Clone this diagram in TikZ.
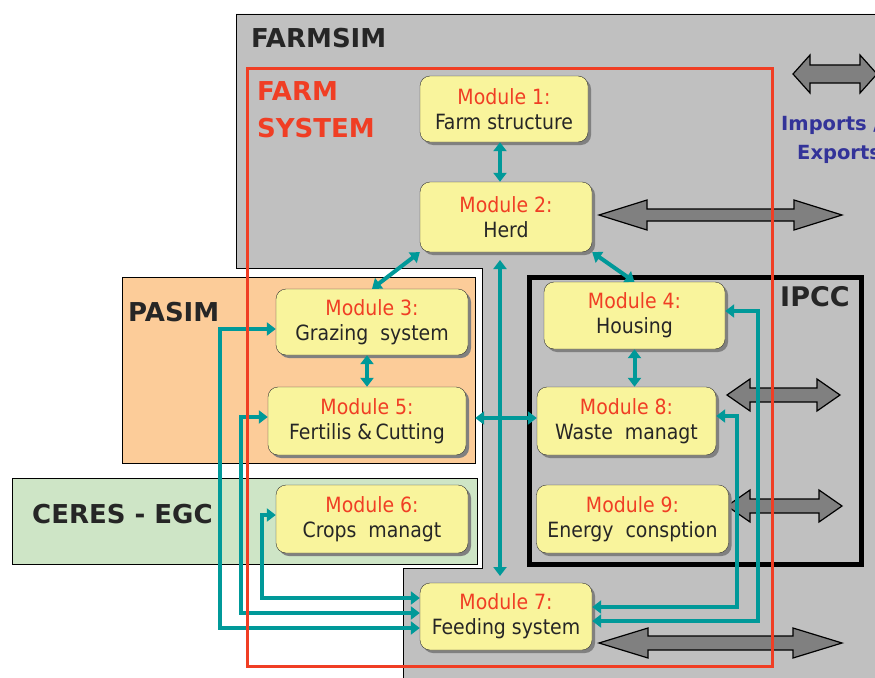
\documentclass[tikz,border=0pt]{standalone}
\usepackage{fontspec}
\setmainfont{DejaVu Sans}
\newfontfamily\condfont{DejaVu Sans Condensed}
\usepackage{xcolor}
\usetikzlibrary{arrows.meta,shadows}
\definecolor{farmgray}{RGB}{192,192,192}
\definecolor{pasimorange}{RGB}{252,204,153}
\definecolor{ceresgreen}{RGB}{206,229,198}
\definecolor{modyellow}{RGB}{249,244,156}
\definecolor{farmred}{RGB}{240,62,36}
\definecolor{linkteal}{RGB}{0,153,153}
\definecolor{ioblue}{RGB}{51,51,153}
\definecolor{blockgray}{RGB}{128,128,128}
% block double arrow: left x, right x, mid y, head length, head half, shaft half
\newcommand{\ioarrow}[6]{%
  \draw[ioshape] (#1,#3) -- ++(#4,-#5) -- ++(0,#5-#6) -- ({#2-#4},{#3-#6})
    -- ++(0,#6-#5) -- (#2,#3) -- ({#2-#4},{#3+#5}) -- ++(0,#6-#5)
    -- ({#1+#4},{#3+#6}) -- ++(0,#5-#6) -- cycle;}
\tikzset{
  module/.style={rectangle, rounded corners=10pt, draw=black!80, fill=modyellow,
    align=center, inner sep=0pt, text=black!85,
    font=\condfont\fontsize{21}{25}\selectfont,
    drop shadow={shadow xshift=3pt, shadow yshift=-3pt, fill=black!50, opacity=1}},
  link/.style={draw=linkteal, line width=4pt,
    arrows={Triangle[length=9pt,width=13pt]-Triangle[length=9pt,width=13pt]}},
  ioshape/.style={fill=blockgray, draw=black, line width=1.2pt},
  biglabel/.style={anchor=base west, inner sep=0pt, text=black!85,
    font=\bfseries\fontsize{26}{30}\selectfont},
  iolabel/.style={anchor=base west, inner sep=0pt, text=ioblue,
    font=\bfseries\fontsize{19.5}{24}\selectfont}
}

\begin{document}
\begin{tikzpicture}[x=1pt, y=-1pt]
    \useasboundingbox (0,0) rectangle (875,677);
    \clip (0,0) rectangle (875,677);
    % model areas
    \draw[fill=farmgray, line width=0.8pt] (236,14) -- (885,14) -- (885,685) -- (403,685)
        -- (403,568) -- (482,568) -- (482,268) -- (236,268) -- cycle;
    \draw[fill=pasimorange, line width=0.8pt] (122,277) rectangle (475,463);
    \draw[fill=ceresgreen, line width=0.8pt] (12,478) rectangle (477,564);
    \draw[line width=5pt] (529.5,277.5) rectangle (861,564);
    \node[biglabel] (farmsim) at (251,48) {FARMSIM};
    \node[biglabel] (pasim) at (128,321) {PASIM};
    \node[biglabel] (ceres) at (32,523) {CERES - EGC};
    \node[biglabel, font=\bfseries\fontsize{27}{30}\selectfont] (ipcc) at (780,306) {IPCC};
    \node[biglabel, text=farmred] (farm) at (257,100) {FARM};
    \node[biglabel, text=farmred] (system) at (257,137) {SYSTEM};
    \node[iolabel] (imports) at (781,130) {Imports /};
    \node[iolabel] (exports) at (797,159) {Exports};
    % imports / exports
    \ioarrow{793}{877}{74}{17}{19}{9}
    \ioarrow{599}{842}{215}{48}{15}{6}
    \ioarrow{727}{840}{395}{23}{16}{7}
    \ioarrow{727}{842}{506}{23}{16}{7}
    \ioarrow{599}{842}{643}{49}{15}{7}
    % modules
    \node[module, minimum width=168pt, minimum height=66pt] (m1) at (504,109)
        {\textcolor{farmred}{Module 1:}\\Farm structure};
    \node[module, minimum width=172pt, minimum height=70pt] (m2) at (506,217)
        {\textcolor{farmred}{Module 2:}\\Herd};
    \node[module, minimum width=192pt, minimum height=66pt] (m3) at (372,322)
        {\textcolor{farmred}{Module 3:}\\Grazing\ \ system};
    \node[module, minimum width=181pt, minimum height=67pt] (m4) at (634.5,315.5)
        {\textcolor{farmred}{Module 4:}\\Housing};
    \node[module, minimum width=198pt, minimum height=68pt] (m5) at (367,421)
        {\textcolor{farmred}{Module 5:}\\Fertilis \&\,Cutting};
    \node[module, minimum width=192pt, minimum height=68pt] (m6) at (372,519)
        {\textcolor{farmred}{Module 6:}\\Crops\ \ managt};
    \node[module, minimum width=172pt, minimum height=67pt] (m7) at (506,616.5)
        {\textcolor{farmred}{Module 7:}\\Feeding system};
    \node[module, minimum width=179pt, minimum height=68pt] (m8) at (626.5,421)
        {\textcolor{farmred}{Module 8:}\\Waste\ \ managt};
    \node[module, minimum width=192pt, minimum height=68pt] (m9) at (632.5,519)
        {\textcolor{farmred}{Module 9:}\\Energy\ \ consption};
    % links
    \coordinate (spinetop) at (500,260);
    \coordinate (spinebot) at (500,576);
    \draw[link] (m1.south -| spinetop) -- (m2.north -| spinetop);
    \draw[link] (m2.south west) -- (m3.north);
    \draw[link] (m2.south east) -- (m4.north);
    \draw[link] (spinetop) -- (spinebot);
    \draw[link] (m3.south -| m5.north) -- (m5.north);
    \draw[link] ([xshift=9pt,yshift=3pt]m5.east) -- ([yshift=3pt]m8.west);
    \draw[link] (m4.south) -- (m4.south |- m8.north);
    \draw[link] ([yshift=-7pt]m3.west) -- ++(-56,0) |- ([yshift=-11.5pt]m7.west);
    \draw[link] ([yshift=4pt]m5.west) -- ++(-27,0) |- ([yshift=3.5pt]m7.west);
    \draw[link] ([yshift=4pt]m6.west) -- ++(-14,0) |- ([yshift=18.5pt]m7.west);
    \draw[link] ([yshift=4.5pt]m4.east) -- ++(33,0) |- ([yshift=-4.5pt]m7.east);
    \draw[link] ([yshift=5pt]m8.east) -- ++(21,0) |- ([yshift=9.5pt]m7.east);
    % farm system
    \draw[farmred, line width=3pt] (247,69) rectangle (772,666);
\end{tikzpicture}
\end{document}
